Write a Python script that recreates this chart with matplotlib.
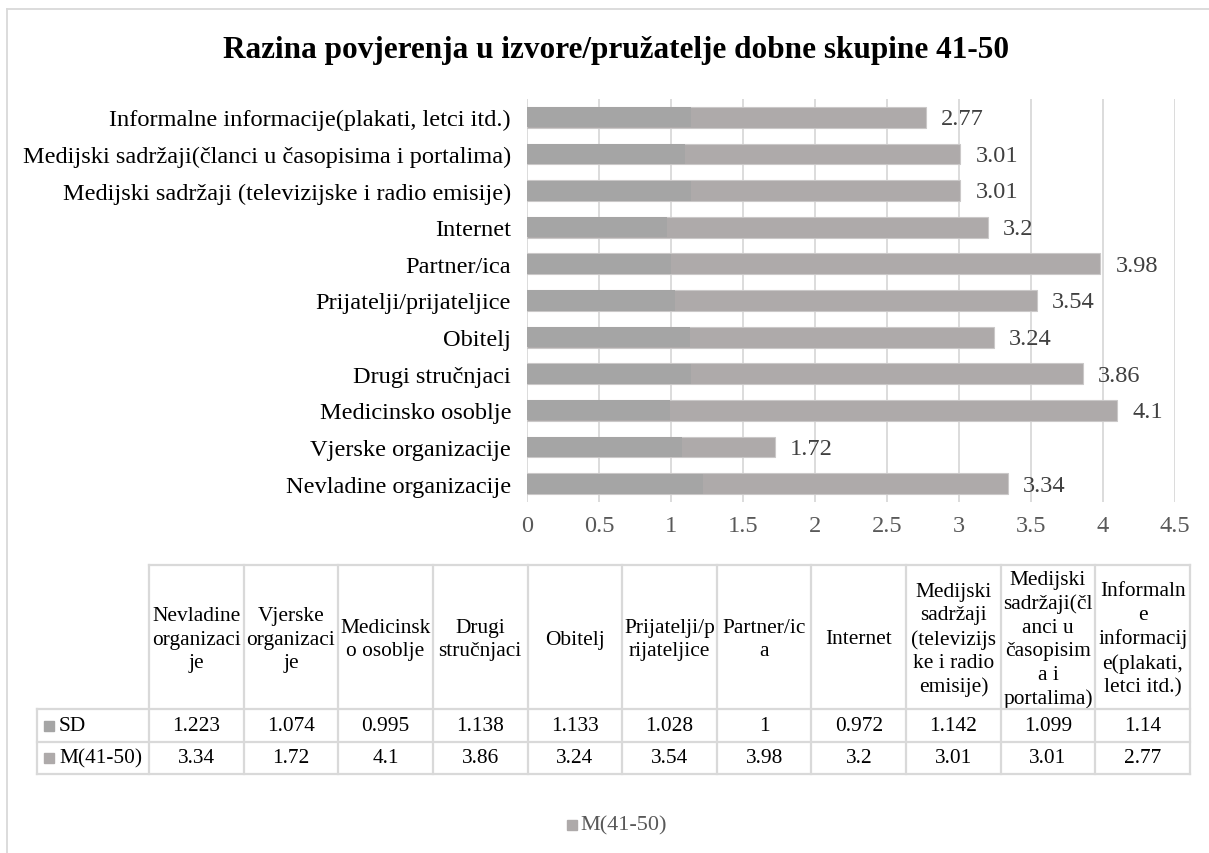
import matplotlib
matplotlib.use("Agg")
import matplotlib.pyplot as plt
from matplotlib.lines import Line2D
from matplotlib.patches import Rectangle

plt.rcParams['font.family'] = ['Liberation Serif', 'DejaVu Serif']

# ---------------- data ----------------
categories = [
    "Nevladine organizacije",
    "Vjerske organizacije",
    "Medicinsko osoblje",
    "Drugi stručnjaci",
    "Obitelj",
    "Prijatelji/prijateljice",
    "Partner/ica",
    "Internet",
    "Medijski sadržaji (televizijske i radio emisije)",
    "Medijski sadržaji(članci u časopisima i portalima)",
    "Informalne informacije(plakati, letci itd.)",
]
table_headers = [
    "Nevladine\norganizaci\nje",
    "Vjerske\norganizaci\nje",
    "Medicinsk\no osoblje",
    "Drugi\nstručnjaci",
    "Obitelj",
    "Prijatelji/p\nrijateljice",
    "Partner/ic\na",
    "Internet",
    "Medijski\nsadržaji\n(televizijs\nke i radio\nemisije)",
    "Medijski\nsadržaji(čl\nanci u\nčasopisim\na i\nportalima)",
    "Informaln\ne\ninformacij\ne(plakati,\nletci itd.)",
]
sd_values = [1.223, 1.074, 0.995, 1.138, 1.133, 1.028, 1, 0.972, 1.142, 1.099, 1.14]
m_values = [3.34, 1.72, 4.1, 3.86, 3.24, 3.54, 3.98, 3.2, 3.01, 3.01, 2.77]
x_ticks = [0, 0.5, 1, 1.5, 2, 2.5, 3, 3.5, 4, 4.5]
x_tick_labels = ["0", "0.5", "1", "1.5", "2", "2.5", "3", "3.5", "4", "4.5"]
series_names = ["SD", "M(41-50)"]
title = "Razina povjerenja u izvore/pružatelje dobne skupine 41-50"

# ---------------- style ----------------
W, H = 1209, 854
C_SD = "#a5a5a5"
C_M = "#aeaaaa"
GRID = "#d9d9d9"

fig = plt.figure(figsize=(W / 100, H / 100), dpi=100)


def fx(x):
    return x / W


def fy(y):
    return 1 - y / H


# outer frame (top & left visible)
fig.add_artist(Line2D([fx(7), fx(W + 5)], [fy(10), fy(10)], color=GRID, lw=1.3,
                      transform=fig.transFigure))
fig.add_artist(Line2D([fx(7), fx(7)], [fy(10), fy(H + 5)], color=GRID, lw=1.3,
                      transform=fig.transFigure))

fig.text(fx(616), fy(58), title, ha="center", va="baseline", fontsize=22.5,
         fontweight="bold", color="#000000")

ax_left, ax_right, ax_top, ax_bot = 527, 1175, 100, 503
ax = fig.add_axes([fx(ax_left), fy(ax_bot), (ax_right - ax_left) / W, (ax_bot - ax_top) / H])

ypos = list(range(len(categories)))
bar_h = 0.57
ax.barh(ypos, m_values, height=bar_h, color=C_M, edgecolor="#cac8c8", linewidth=0.8, zorder=2)
ax.barh(ypos, sd_values, height=bar_h - 0.02, color=C_SD, linewidth=0, zorder=3)

for y, v in zip(ypos, m_values):
    ax.annotate(f"{v:g}", xy=(v, y), xytext=(11, -1), textcoords="offset points",
                va="center", ha="left", fontsize=17.6, color="#404040")

ax.set_xlim(0, 4.5)
ax.set_ylim(-0.5, len(categories) - 0.5)
ax.set_xticks(x_ticks)
ax.set_xticklabels(x_tick_labels, fontsize=17.6, color="#595959")
ax.set_yticks(ypos)
ax.set_yticklabels(categories, fontsize=17.6, color="#000000")
ax.tick_params(axis="both", length=0)
ax.tick_params(axis="y", pad=11.5)
ax.tick_params(axis="x", pad=9)
for s in ax.spines.values():
    s.set_visible(False)
ax.grid(axis="x", color=GRID, lw=1.3, zorder=0)
ax.set_axisbelow(True)

# ---------------- data table ----------------
t_lab_left = 37
t_col_left = 149
t_right = 1190
h_top, h_bot = 566, 710
r1_bot, r2_bot = 743, 775
ncol = len(table_headers)
cw = (t_right - t_col_left) / ncol
TL = dict(color=GRID, lw=1.6, transform=fig.transFigure, zorder=5)


def hline(x0, x1, y):
    fig.add_artist(Line2D([fx(x0), fx(x1)], [fy(y), fy(y)], **TL))


def vline(x, y0, y1):
    fig.add_artist(Line2D([fx(x), fx(x)], [fy(y0), fy(y1)], **TL))


hline(t_col_left, t_right, h_top)
hline(t_lab_left, t_right, h_bot)
hline(t_lab_left, t_right, r1_bot)
hline(t_lab_left, t_right, r2_bot)
vline(t_lab_left, h_bot, r2_bot)
for i in range(ncol + 1):
    vline(t_col_left + i * cw, h_top, r2_bot)

for i, hdr in enumerate(table_headers):
    cx = t_col_left + (i + 0.5) * cw
    fig.text(fx(cx), fy((h_top + h_bot) / 2 + 2), hdr, ha="center", va="center",
             fontsize=15.4, linespacing=1.32, color="#000000")

rows = [(sd_values, h_bot, r1_bot, C_SD), (m_values, r1_bot, r2_bot, C_M)]
for (vals, y0, y1, col), name in zip(rows, series_names):
    cy = (y0 + y1) / 2
    fig.add_artist(Rectangle((fx(44), fy(cy + 5)), 10 / W, 10 / H, color=col,
                             transform=fig.transFigure, zorder=6))
    fig.text(fx(59), fy(cy), name, ha="left", va="center", fontsize=15.4, color="#000000")
    for i, v in enumerate(vals):
        cx = t_col_left + (i + 0.5) * cw
        fig.text(fx(cx), fy(cy), f"{v:g}", ha="center", va="center", fontsize=15.4,
                 color="#000000")

# ---------------- legend ----------------
leg_y = 826
fig.add_artist(Rectangle((fx(567), fy(leg_y + 5)), 10 / W, 10 / H, color=C_M,
                         transform=fig.transFigure, zorder=6))
fig.text(fx(580), fy(leg_y), series_names[1], ha="left", va="center", fontsize=16,
         color="#595959")

fig.savefig("out.png", dpi=100)
